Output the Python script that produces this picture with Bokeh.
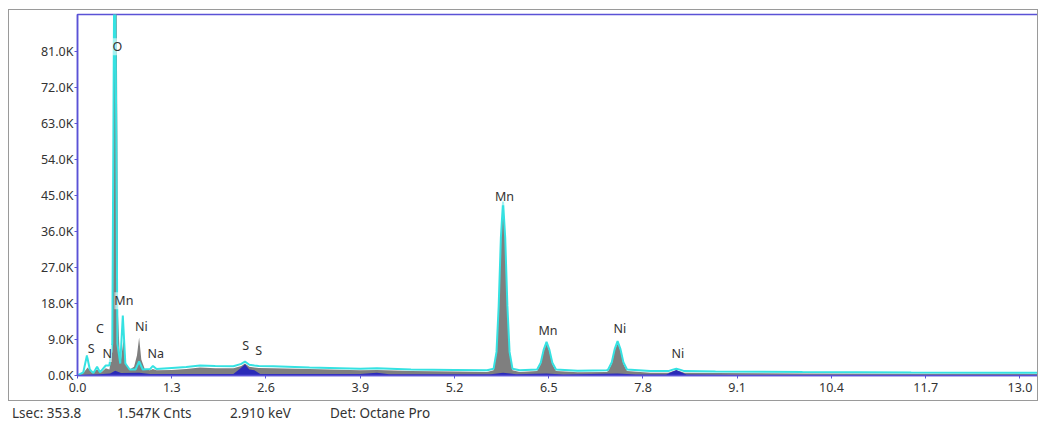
from bokeh.plotting import figure
from bokeh.models import FixedTicker, Div, ColumnDataSource
from bokeh.layouts import column
from bokeh.core.properties import value
from bokeh.embed import file_html
from bokeh.resources import INLINE

# ---- data ----
grey_kev = [0.00, 0.08, 0.14, 0.20, 0.27, 0.33, 0.39, 0.44, 0.48, 0.49, 0.50, 0.51, 0.525, 0.54, 0.55, 0.56, 0.58,
            0.60, 0.635, 0.67, 0.72, 0.78, 0.82, 0.85, 0.88, 0.93, 1.00, 1.04, 1.09, 1.30, 1.50, 1.69, 1.90,
            2.15, 2.26, 2.31, 2.37, 2.44, 2.50, 2.70, 3.20, 3.90, 4.13, 4.60, 5.20, 5.65,
            5.74, 5.78, 5.81, 5.84, 5.87, 5.90, 5.93, 5.96, 6.00, 6.10,
            6.34, 6.39, 6.43, 6.47, 6.51, 6.55, 6.60, 6.90,
            7.30, 7.32, 7.37, 7.41, 7.45, 7.49, 7.53, 7.58, 7.90,
            8.15, 8.20, 8.26, 8.32, 8.37, 8.80, 10.0, 11.5, 13.27]
grey_cts = [0, 600, 2000, 700, 1500, 800, 1800, 1500, 6000, 20000, 80000, 95000, 95000, 95000, 60000, 15000, 6000,
            4000, 9000, 3000, 1500, 2200, 5000, 9500, 4000, 1500, 1300, 1600, 1300, 1400, 1600, 2000, 1800,
            1800, 2400, 3000, 2200, 2000, 1900, 1800, 1600, 1300, 1400, 1100, 1000, 900,
            1300, 5500, 17000, 34000, 43000, 34000, 17000, 5500, 1300, 900,
            1100, 2800, 6000, 8000, 6000, 2800, 1100, 800,
            900, 1100, 2900, 6200, 8200, 6200, 2900, 1100, 700,
            700, 1000, 1300, 1000, 700, 600, 500, 450, 400]

cyan_kev = [0.00, 0.08, 0.13, 0.17, 0.22, 0.27, 0.31, 0.39, 0.44, 0.48, 0.495, 0.505, 0.52, 0.535, 0.55,
            0.59, 0.625, 0.66, 0.72, 0.80, 0.85, 0.90, 1.00, 1.04, 1.09, 1.30, 1.50, 1.69, 1.90, 2.15, 2.26,
            2.31, 2.37, 2.44, 2.50, 2.70, 3.20, 3.90, 4.13, 4.60, 5.20, 5.65,
            5.74, 5.78, 5.81, 5.84, 5.87, 5.90, 5.93, 5.96, 6.00, 6.10,
            6.34, 6.39, 6.43, 6.47, 6.51, 6.55, 6.60, 6.90,
            7.30, 7.32, 7.37, 7.41, 7.45, 7.49, 7.53, 7.58, 7.90,
            8.15, 8.20, 8.26, 8.32, 8.37, 8.80, 10.0, 11.5, 13.27]
cyan_cts = [0, 800, 5000, 1500, 600, 2200, 800, 2500, 2500, 8000, 60000, 95000, 95000, 60000, 8000,
            3000, 15000, 3000, 1500, 1500, 3500, 1500, 1600, 2400, 1600, 1900, 2100, 2500, 2400, 2300, 2900,
            3500, 2700, 2500, 2400, 2300, 2000, 1700, 1800, 1500, 1400, 1300,
            1700, 5900, 17400, 34400, 43500, 34400, 17400, 5900, 1700, 1300,
            1500, 3200, 6400, 8400, 6400, 3200, 1500, 1200,
            1300, 1500, 3300, 6600, 8600, 6600, 3300, 1500, 1100,
            1100, 1400, 1700, 1400, 1100, 1000, 850, 750, 700]

blue_kev = [0.00, 0.10, 0.30, 0.45, 0.52, 0.60, 0.85, 1.00, 1.50, 2.15, 2.25, 2.31, 2.37, 2.44, 2.52, 3.90,
            4.13, 4.30, 5.70, 5.87, 6.05, 6.47, 6.70, 7.45, 7.70, 8.12, 8.26, 8.40, 9.00, 13.27]
blue_cts = [0, 200, 300, 500, 1200, 600, 700, 400, 350, 400, 1800, 2800, 1500, 1300, 400, 350,
            700, 300, 300, 700, 300, 500, 250, 500, 250, 250, 1400, 250, 150, 100]

peak_names = ["O", "Mn", "C", "Ni", "S", "N", "Na", "S", "S", "Mn", "Mn", "Ni", "Ni"]
peak_kev = [0.55, 0.64, 0.31, 0.88, 0.19, 0.41, 1.08, 2.32, 2.50, 5.89, 6.49, 7.48, 8.28]
peak_lab_cts = [82200, 18700, 11700, 12200, 6700, 5500, 5500, 7500, 6200, 44700, 11200, 11700, 5500]

x_ticks = [0.0, 1.3, 2.6, 3.9, 5.2, 6.5, 7.8, 9.1, 10.4, 11.7, 13.0]
x_tick_labels = ["0.0", "1.3", "2.6", "3.9", "5.2", "6.5", "7.8", "9.1", "10.4", "11.7", "13.0"]
y_ticks = [0, 9000, 18000, 27000, 36000, 45000, 54000, 63000, 72000, 81000]
y_tick_labels = ["0.0K", "9.0K", "18.0K", "27.0K", "36.0K", "45.0K", "54.0K", "63.0K", "72.0K", "81.0K"]

status = ["Lsec: 353.8", "1.547K Cnts", "2.910 keV", "Det: Octane Pro"]

FONT = "Noto Sans"
BLUE_AX = "#5a52d6"

p = figure(width=1030, height=392, x_range=(0, 13.27), y_range=(0, 90250),
           output_backend="svg", toolbar_location=None,
           min_border_left=68, min_border_right=0, min_border_top=4, min_border_bottom=27)
p.styles = {"border": "1px solid #9a9a9a"}
p.margin = (9, 0, 0, 8)
p.background_fill_color = "white"
p.border_fill_color = "white"
p.outline_line_color = BLUE_AX
p.outline_line_width = 1.5
p.xgrid.visible = False
p.ygrid.visible = False

p.varea(x=grey_kev, y1=[0] * len(grey_kev), y2=grey_cts, fill_color="#7f7f7f")
p.varea(x=blue_kev, y1=[0] * len(blue_kev), y2=blue_cts, fill_color="#2a2ab8")
p.line(x=cyan_kev, y=cyan_cts, line_color="#35e2e2", line_width=2)

src = ColumnDataSource(dict(x=peak_kev, y=peak_lab_cts, t=peak_names))
p.text(x="x", y="y", text="t", source=src, text_font=value(FONT), text_font_size="12.5px",
       text_color="#333333", text_align="center", text_baseline="middle",
       background_fill_color="white", background_fill_alpha=0.55)

for ax in (p.xaxis[0], p.yaxis[0]):
    ax.axis_line_color = BLUE_AX
    ax.axis_line_width = 1.5
    ax.major_tick_line_color = BLUE_AX
    ax.major_tick_in = 0
    ax.major_tick_out = 3
    ax.minor_tick_line_color = None
    ax.major_label_text_font = FONT
    ax.major_label_text_font_size = "12.5px"
    ax.major_label_text_color = "#333333"

p.xaxis.ticker = FixedTicker(ticks=x_ticks)
p.xaxis.major_label_overrides = {t: l for t, l in zip(x_ticks, x_tick_labels)}
p.xaxis.major_label_standoff = 4
p.yaxis.ticker = FixedTicker(ticks=y_ticks)
p.yaxis.major_label_overrides = {t: l for t, l in zip(y_ticks, y_tick_labels)}
p.yaxis.major_label_standoff = 1

lefts = [4, 109, 222, 322]
spans = "".join(
    f'<span style="position:absolute;left:{l}px;top:0px;white-space:nowrap">{s}</span>'
    for l, s in zip(lefts, status))
div = Div(text=f'<div style="position:relative;height:20px;font-family:\'{FONT}\';font-size:13.5px;color:#333">{spans}</div>',
          width=1030, height=20, margin=(3, 0, 0, 8))

layout = column(p, div, spacing=0)
open("out.html", "w").write(file_html(layout, INLINE))
